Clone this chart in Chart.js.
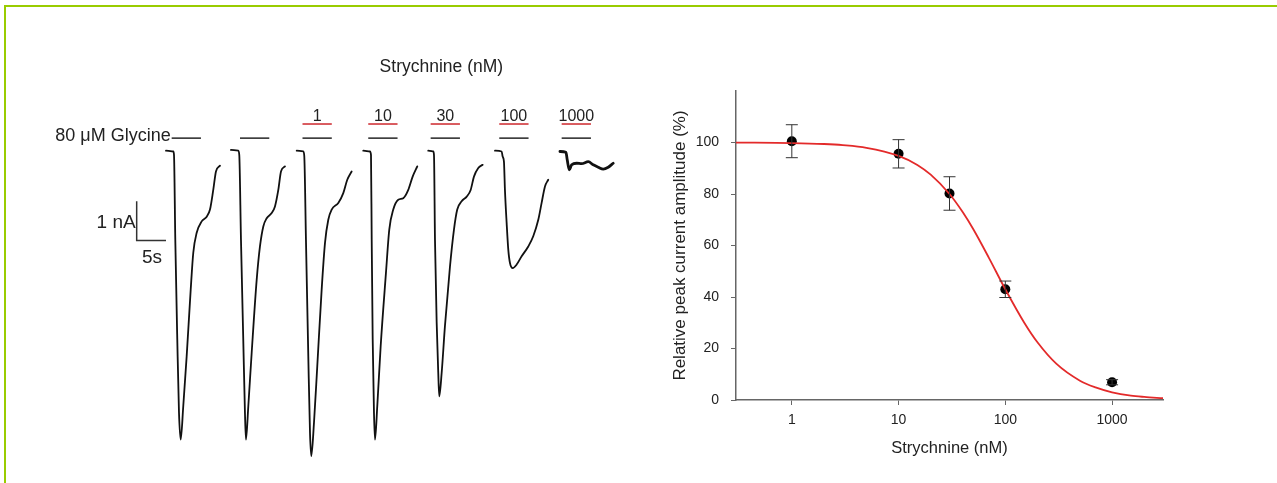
<!DOCTYPE html>
<html>
<head>
<meta charset="utf-8">
<script src="https://cdn.jsdelivr.net/npm/chart.js@4/dist/chart.umd.min.js"></script>
<style>
  html, body { margin: 0; padding: 0; background: #fff; }
  body { width: 1277px; height: 483px; position: relative; overflow: hidden; }
  #frame { position: absolute; left: 4px; top: 5px; width: 1300px; height: 500px;
           border-top: 2px solid #9c0; border-left: 2px solid #9c0; }
  #traces { position: absolute; left: 40px; top: 51px; }
  #dose { position: absolute; left: 650px; top: 80px; }
</style>
</head>
<body>
<div id="frame"></div>
<canvas id="traces" width="600" height="420"></canvas>
<canvas id="dose" width="530" height="390"></canvas>
<script>
// --- left panel: current sweeps, [time (s), current (nA)] ---
const sweepGly1 = [[21.50,-0.04],[22.75,-0.06],[22.87,-0.15],[23.09,-2.31],[23.43,-4.85],[23.72,-6.71],[24.01,-7.40],[24.45,-6.55],[25.03,-5.28],[25.72,-3.58],[26.16,-2.64],[26.74,-2.13],[27.59,-1.84],[28.45,-1.72],[29.01,-1.54],[29.57,-1.04],[30.03,-0.57],[30.72,-0.42]];
const sweepGly2 = [[32.59,-0.02],[33.84,-0.04],[34.01,-0.15],[34.30,-2.31],[34.69,-4.85],[34.98,-6.72],[35.15,-7.40],[35.55,-6.55],[36.13,-5.18],[36.98,-3.33],[37.54,-2.48],[38.11,-1.97],[38.69,-1.76],[39.54,-1.63],[40.10,-1.46],[40.67,-1.04],[41.13,-0.57],[41.81,-0.44]];
const sweepStr1 = [[43.81,-0.04],[44.93,-0.06],[45.10,-0.17],[45.39,-2.31],[45.79,-5.28],[46.08,-7.23],[46.30,-7.82],[46.76,-6.97],[47.32,-5.53],[48.07,-3.58],[48.64,-2.39],[49.20,-1.80],[49.78,-1.54],[50.91,-1.37],[51.76,-1.12],[52.44,-0.78],[53.19,-0.57]];
const sweepStr10 = [[55.17,-0.04],[56.31,-0.06],[56.49,-0.15],[56.61,-2.31],[56.78,-4.85],[57.00,-6.72],[57.17,-7.40],[57.56,-6.55],[58.14,-5.02],[59.04,-3.16],[59.61,-2.05],[60.29,-1.54],[61.14,-1.29],[62.00,-1.25],[62.85,-1.04],[63.60,-0.70],[64.39,-0.44]];
const sweepStr30 = [[66.26,-0.04],[67.12,-0.06],[67.24,-0.15],[67.41,-2.31],[67.70,-4.43],[67.97,-5.70],[68.14,-6.30],[68.55,-5.70],[69.11,-4.51],[69.97,-2.99],[70.65,-2.05],[71.21,-1.54],[71.96,-1.33],[72.82,-1.21],[73.50,-1.04],[74.06,-0.70],[74.80,-0.48],[75.55,-0.40]];
const sweepStr100 = [[77.65,-0.04],[78.79,-0.06],[78.96,-0.19],[79.18,-0.32],[79.35,-1.04],[79.64,-1.88],[79.92,-2.56],[80.21,-2.90],[80.67,-3.03],[81.35,-2.94],[82.20,-2.73],[83.33,-2.48],[84.18,-2.22],[85.04,-1.80],[85.61,-1.37],[86.18,-0.95],[86.74,-0.78]];
const sweepStr1000 = [[88.74,-0.06],[89.76,-0.08],[89.98,-0.27],[90.33,-0.53],[90.74,-0.40],[91.59,-0.36],[92.44,-0.37],[93.57,-0.32],[94.42,-0.40],[95.27,-0.46],[96.13,-0.51],[96.98,-0.46],[97.83,-0.36]];

// drug application bars (onset in s, 5 s long)
const glyOnset = [22.47, 34.13, 44.80, 56.02, 66.67, 78.38, 89.03];
const strOnset = [44.80, 56.02, 66.67, 78.38, 89.03];
const strLabels = ['1', '10', '30', '100', '1000'];
const appDur = 5;

// --- right panel: dose response ---
const doses = [1, 10, 30, 100, 1000];
const relAmp = [100.5, 95.6, 80.2, 43.0, 6.9];
const relSem = [6.4, 5.5, 6.5, 3.2, 1.0];
const fitDose = [0.3, 1, 2, 3, 5, 10, 15, 20, 30, 40, 50, 70, 100, 150, 200, 300, 500, 700, 1000, 1500, 2000, 3000];
const fitAmp = [99.96, 99.78, 99.42, 98.98, 97.95, 94.8, 91.3, 87.5, 80.0, 72.9, 66.4, 55.3, 43.0, 30.1, 22.4, 14.1, 7.5, 4.9, 3.0, 1.7, 1.2, 0.7];
const doseTicks = [1, 10, 100, 1000];
const ampTicks = [0, 20, 40, 60, 80, 100];

const FONT = '"Liberation Sans", Arial, sans-serif';
Chart.defaults.font.family = FONT;
Chart.defaults.color = '#222';

const toXY = arr => arr.map(p => ({ x: p[0], y: p[1] }));
const GLY_LEVEL = 0.28, STR_LEVEL = 0.64;

function sweep(data, width) {
  return { data: toXY(data), showLine: true, borderColor: '#111', borderWidth: width || 1.8,
           pointRadius: 0, cubicInterpolationMode: 'monotone', borderCapStyle: 'round', borderJoinStyle: 'round' };
}
function bar(t0, level, color) {
  return { data: [{ x: t0, y: level }, { x: t0 + appDur, y: level }], showLine: true,
           borderColor: color, borderWidth: 1.6, pointRadius: 0 };
}

const traceSets = [
  sweep(sweepGly1), sweep(sweepGly2), sweep(sweepStr1), sweep(sweepStr10),
  sweep(sweepStr30), sweep(sweepStr100), sweep(sweepStr1000, 2.8)
];
glyOnset.forEach(t => traceSets.push(bar(t, GLY_LEVEL, '#333')));
strOnset.forEach(t => traceSets.push(bar(t, STR_LEVEL, '#d1343a')));
// scale bar: 1 nA, 5 s
traceSets.push({ data: [{ x: 16.5, y: -1.33 }, { x: 16.5, y: -2.33 }, { x: 21.5, y: -2.33 }],
  showLine: true, borderColor: '#333', borderWidth: 1.5, pointRadius: 0 });

const traceLabels = {
  id: 'traceLabels',
  afterDatasetsDraw(chart) {
    const { ctx, scales: { x, y } } = chart;
    ctx.save();
    ctx.fillStyle = '#222';
    ctx.textAlign = 'center';
    ctx.textBaseline = 'alphabetic';
    ctx.font = '16px ' + FONT;
    strOnset.forEach((t, k) => {
      ctx.fillText(strLabels[k], x.getPixelForValue(t + appDur / 2), y.getPixelForValue(STR_LEVEL) - 3);
    });
    ctx.font = '17.5px ' + FONT;
    ctx.fillText('Strychnine (nM)', x.getPixelForValue(68.5), y.getPixelForValue(STR_LEVEL) - 52);
    ctx.textAlign = 'right';
    ctx.font = '18px ' + FONT;
    ctx.fillText('80 \u03bcM Glycine', x.getPixelForValue(glyOnset[0]) - 1, y.getPixelForValue(GLY_LEVEL) + 3);
    ctx.font = '19px ' + FONT;
    ctx.fillText('1 nA', x.getPixelForValue(16.5) - 1, y.getPixelForValue(-1.83) + 7);
    ctx.textAlign = 'center';
    ctx.fillText('5s', x.getPixelForValue(19.1), y.getPixelForValue(-2.33) + 22);
    ctx.restore();
  }
};

new Chart(document.getElementById('traces'), {
  type: 'scatter',
  data: { datasets: traceSets },
  options: {
    responsive: false, animation: false, events: [],
    layout: { padding: 0 },
    plugins: { legend: { display: false }, tooltip: { enabled: false } },
    scales: {
      x: { type: 'linear', min: 0, max: 102.4, display: false },
      y: { type: 'linear', min: -8.2, max: 2.5, display: false }
    }
  },
  plugins: [traceLabels]
});

const errorBars = {
  id: 'errorBars',
  afterDatasetsDraw(chart) {
    const { ctx, scales: { x, y } } = chart;
    ctx.save();
    ctx.strokeStyle = '#333';
    ctx.lineWidth = 1;
    doses.forEach((d, k) => {
      const px = x.getPixelForValue(d);
      const top = y.getPixelForValue(relAmp[k] + relSem[k]);
      const bot = y.getPixelForValue(relAmp[k] - relSem[k]);
      ctx.beginPath();
      ctx.moveTo(px, top); ctx.lineTo(px, bot);
      ctx.moveTo(px - 6, top); ctx.lineTo(px + 6, top);
      ctx.moveTo(px - 6, bot); ctx.lineTo(px + 6, bot);
      ctx.stroke();
    });
    ctx.restore();
  }
};

const axisGrid = { drawOnChartArea: false, drawTicks: true, tickLength: 5, color: '#666', lineWidth: 1 };
const axisBorder = { display: true, color: '#666', width: 1.5 };

new Chart(document.getElementById('dose'), {
  type: 'scatter',
  data: {
    datasets: [
      { data: fitDose.map((d, k) => ({ x: d, y: fitAmp[k] })), showLine: true, borderColor: '#e32a2a',
        borderWidth: 1.8, pointRadius: 0, cubicInterpolationMode: 'monotone' },
      { data: doses.map((d, k) => ({ x: d, y: relAmp[k] })), showLine: false, pointRadius: 5,
        pointBackgroundColor: '#000', pointBorderColor: '#000', pointBorderWidth: 0 }
    ]
  },
  options: {
    responsive: false, animation: false, events: [],
    layout: { padding: { top: 11, right: 17, left: 0, bottom: 0 } },
    plugins: { legend: { display: false }, tooltip: { enabled: false } },
    scales: {
      x: {
        type: 'logarithmic', min: 0.3, max: 3000,
        afterBuildTicks: s => { s.ticks = doseTicks.map(v => ({ value: v, major: true })); },
        afterFit: s => { s.height = 70; s.paddingLeft = 0; s.paddingRight = 0; },
        ticks: { callback: v => String(v), font: { size: 14 }, padding: 7, color: '#222', maxRotation: 0 },
        grid: axisGrid, border: axisBorder,
        title: { display: true, text: 'Strychnine (nM)', font: { size: 16.5 }, color: '#222', padding: { top: 0, bottom: 12 } }
      },
      y: {
        type: 'linear', min: 0, max: 120,
        afterBuildTicks: s => { s.ticks = ampTicks.map(v => ({ value: v })); },
        afterFit: s => { s.width = 86; s.paddingTop = 0; s.paddingBottom = 0; },
        ticks: { font: { size: 14 }, padding: 12, color: '#222' },
        grid: axisGrid, border: axisBorder,
        title: { display: true, text: 'Relative peak current amplitude (%)', font: { size: 17 }, color: '#222', padding: { top: 20, bottom: 0 } }
      }
    }
  },
  plugins: [errorBars]
});
</script>
</body>
</html>
